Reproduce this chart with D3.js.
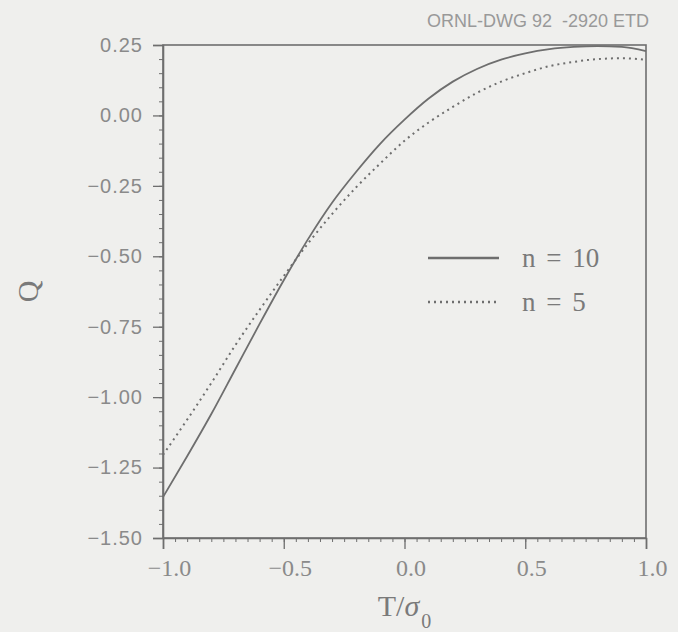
<!DOCTYPE html>
<html>
<head>
<meta charset="utf-8">
<script src="https://cdn.jsdelivr.net/npm/d3@7"></script>
<style>
  body { margin: 0; background: #efefed; }
  svg { display: block; }
</style>
</head>
<body>
<div id="chart"></div>
<script>
// data
const T_values = [-1.0, -0.9, -0.8, -0.7, -0.6, -0.5, -0.4, -0.3, -0.2, -0.1, 0.0,
                  0.1, 0.2, 0.3, 0.4, 0.5, 0.6, 0.7, 0.8, 0.9, 1.0];
const Q_n10 = [-1.355, -1.21, -1.06, -0.90, -0.74, -0.585, -0.44, -0.31, -0.20, -0.10, -0.015,
               0.06, 0.12, 0.165, 0.198, 0.22, 0.235, 0.243, 0.246, 0.243, 0.228];
const Q_n5 = [-1.205, -1.08, -0.95, -0.815, -0.69, -0.57, -0.455, -0.35, -0.255, -0.17, -0.09,
              -0.025, 0.03, 0.08, 0.12, 0.15, 0.175, 0.19, 0.20, 0.203, 0.198];
const x_ticks = [-1.0, -0.5, 0.0, 0.5, 1.0];
const y_ticks = [0.25, 0.0, -0.25, -0.5, -0.75, -1.0, -1.25, -1.5];
const legend_labels = ["n = 10", "n = 5"];
const drawing_id = "ORNL-DWG 92  -2920 ETD";

const w = 678, h = 632;
const m = {left: 163, right: 646, top: 45, bottom: 538};
const ink = "#6e6e6e", text_ink = "#8a8a8a";

const svg = d3.select("#chart").append("svg").attr("width", w).attr("height", h);
svg.append("rect").attr("width", w).attr("height", h).attr("fill", "#efefed");

const x = d3.scaleLinear().domain([-1, 1]).range([m.left, m.right]);
const y = d3.scaleLinear().domain([-1.5, 0.25]).range([m.bottom, m.top]);

// drawing number
svg.append("text")
    .attr("x", m.right + 3).attr("y", 27)
    .attr("text-anchor", "end")
    .attr("font-family", "Liberation Sans Narrow, Liberation Sans, sans-serif")
    .attr("font-size", 18)
    .attr("fill", "#999")
    .style("white-space", "pre")
    .text(drawing_id);

// frame
svg.append("rect")
    .attr("x", m.left).attr("y", m.top)
    .attr("width", m.right - m.left).attr("height", m.bottom - m.top)
    .attr("fill", "none").attr("stroke", ink).attr("stroke-width", 1.6);

// minor ticks
const minor_x = d3.range(-1, 1.0001, 0.05).map(v => +v.toFixed(2));
const minor_y = d3.range(-1.5, 0.2501, 0.05).map(v => +v.toFixed(2));

svg.append("g").attr("transform", `translate(0,${m.bottom})`)
    .call(d3.axisBottom(x).tickValues(minor_x).tickSize(4).tickFormat(""))
    .call(g => g.select(".domain").remove())
    .call(g => g.selectAll("line").attr("stroke", ink));

svg.append("g").attr("transform", `translate(${m.left},0)`)
    .call(d3.axisLeft(y).tickValues(minor_y).tickSize(4).tickFormat(""))
    .call(g => g.select(".domain").remove())
    .call(g => g.selectAll("line").attr("stroke", ink));

// x axis
const axis_x = svg.append("g").attr("transform", `translate(0,${m.bottom})`)
    .call(d3.axisBottom(x).tickValues(x_ticks).tickSize(11).tickPadding(10).tickFormat(d3.format(".1f")));
axis_x.select(".domain").attr("stroke", ink).attr("stroke-width", 1.6);
axis_x.selectAll("line").attr("stroke", ink).attr("stroke-width", 1.3);
axis_x.selectAll("text")
    .attr("font-family", "Liberation Serif, serif")
    .attr("font-size", 24)
    .attr("fill", text_ink)
    .attr("dx", 6);

// y axis
const axis_y = svg.append("g").attr("transform", `translate(${m.left},0)`)
    .call(d3.axisLeft(y).tickValues(y_ticks).tickSize(10).tickPadding(10).tickFormat(d3.format(".2f")));
axis_y.select(".domain").attr("stroke", ink).attr("stroke-width", 1.6);
axis_y.selectAll("line").attr("stroke", ink).attr("stroke-width", 1.3);
axis_y.selectAll("text")
    .attr("font-family", "Liberation Sans, sans-serif")
    .attr("font-size", 20)
    .attr("fill", text_ink)
    .attr("letter-spacing", 1);

// axis titles
svg.append("text")
    .attr("transform", `translate(38,${(m.top + m.bottom) / 2}) rotate(-90)`)
    .attr("text-anchor", "middle")
    .attr("font-family", "Liberation Serif, serif")
    .attr("font-size", 30)
    .attr("fill", "#7a7a7a")
    .text("Q");

const xt = svg.append("text")
    .attr("x", (m.left + m.right) / 2).attr("y", 616)
    .attr("text-anchor", "middle")
    .attr("font-family", "Liberation Serif, serif")
    .attr("font-size", 30)
    .attr("fill", "#7a7a7a");
xt.append("tspan").text("T/");
xt.append("tspan").attr("font-style", "italic").text("σ");
xt.append("tspan").attr("font-size", 20).attr("dy", 12).attr("dx", 2).text("0");

// curves
const line = d3.line().x(d => x(d[0])).y(d => y(d[1])).curve(d3.curveMonotoneX);
const series = [
    {values: Q_n10, dash: null, width: 1.8},
    {values: Q_n5, dash: "2,4", width: 2}
];

svg.append("g").selectAll("path").data(series).enter().append("path")
    .attr("d", s => line(T_values.map((t, i) => [t, s.values[i]])))
    .attr("fill", "none")
    .attr("stroke", ink)
    .attr("stroke-width", s => s.width)
    .attr("stroke-dasharray", s => s.dash);

// legend
const legend = svg.append("g");
const legend_y = [258, 302];
legend.selectAll("line").data(series).enter().append("line")
    .attr("x1", 428).attr("x2", 499)
    .attr("y1", (s, i) => legend_y[i]).attr("y2", (s, i) => legend_y[i])
    .attr("stroke", ink)
    .attr("stroke-width", s => s.width + 0.6)
    .attr("stroke-dasharray", s => s.dash);
legend.selectAll("text").data(legend_labels).enter().append("text")
    .attr("x", 522)
    .attr("y", (d, i) => legend_y[i] + 9)
    .attr("font-family", "Liberation Serif, serif")
    .attr("font-size", 27)
    .attr("word-spacing", 4)
    .attr("fill", "#7a7a7a")
    .style("white-space", "pre")
    .text(d => d);
</script>
</body>
</html>
